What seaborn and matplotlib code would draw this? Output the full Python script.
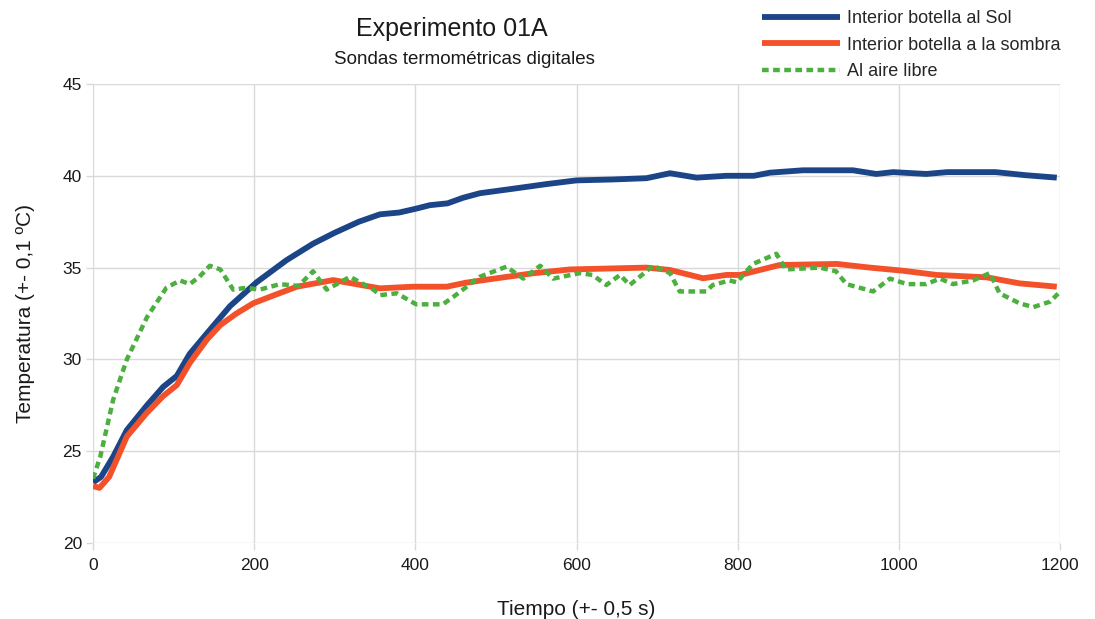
import numpy as np
import pandas as pd
import matplotlib
matplotlib.use("Agg")
import matplotlib.pyplot as plt
import seaborn as sns

# ---- data ----
sol_t = [0, 10, 25, 42, 67, 87, 104, 120, 141, 170, 203, 240, 273, 300, 330, 356, 380,
         400, 418, 440, 459, 480, 522, 563, 600, 645, 687, 716, 749, 786, 820, 840, 881,
         943, 972, 993, 1034, 1060, 1120, 1158, 1196]
sol_v = [23.3, 23.6, 24.7, 26.15, 27.5, 28.5, 29.1, 30.3, 31.4, 32.9, 34.2, 35.4, 36.3,
         36.9, 37.5, 37.9, 38.0, 38.2, 38.4, 38.5, 38.8, 39.05, 39.3, 39.55, 39.75, 39.8,
         39.87, 40.14, 39.9, 40.0, 40.0, 40.17, 40.3, 40.3, 40.1, 40.2, 40.1, 40.2, 40.2,
         40.03, 39.9]

sombra_t = [0, 8, 20, 42, 67, 87, 104, 120, 141, 158, 178, 199, 225, 253, 298, 356, 397,
            439, 463, 501, 546, 592, 687, 716, 757, 786, 803, 852, 923, 964, 1005, 1047,
            1109, 1150, 1196]
sombra_v = [23.1, 23.0, 23.6, 25.8, 27.1, 28.0, 28.6, 29.8, 31.06, 31.87, 32.5, 33.06,
            33.5, 33.96, 34.32, 33.87, 33.96, 33.96, 34.18, 34.42, 34.69, 34.9, 35.0, 34.87,
            34.42, 34.6, 34.6, 35.14, 35.2, 35.0, 34.83, 34.6, 34.47, 34.14, 33.96]

aire_t = [0, 9, 25, 42, 67, 91, 108, 120, 132, 145, 158, 174, 190, 207, 232, 255, 273,
          290, 319, 348, 356, 377, 401, 434, 447, 480, 513, 534, 555, 571, 604, 620, 637,
          654, 666, 695, 716, 728, 761, 769, 790, 799, 819, 848, 860, 902, 922, 935, 968,
          989, 1010, 1034, 1051, 1067, 1092, 1113, 1125, 1150, 1167, 1188, 1198]
aire_v = [23.5, 24.7, 27.8, 30.0, 32.3, 33.9, 34.3, 34.1, 34.5, 35.1, 34.9, 33.8, 33.9,
          33.8, 34.1, 34.0, 34.8, 33.8, 34.5, 33.8, 33.5, 33.6, 33.0, 33.0, 33.4, 34.5,
          35.05, 34.4, 35.1, 34.4, 34.7, 34.6, 34.05, 34.6, 34.05, 35.1, 34.7, 33.7, 33.7,
          34.05, 34.3, 34.2, 35.2, 35.75, 34.9, 35.0, 34.8, 34.1, 33.7, 34.4, 34.1, 34.1,
          34.4, 34.1, 34.3, 34.7, 33.6, 33.05, 32.85, 33.15, 33.6]

labels = ["Interior botella al Sol", "Interior botella a la sombra", "Al aire libre"]
x_ticks = [0, 200, 400, 600, 800, 1000, 1200]
y_ticks = [20, 25, 30, 35, 40, 45]

title = "Experimento 01A"
subtitle = "Sondas termométricas digitales"
xlabel = "Tiempo (+- 0,5 s)"
ylabel = "Temperatura (+- 0,1 ºC)"

# ---- style ----
sns.set_style("white")
plt.rcParams["font.family"] = ["Liberation Sans", "DejaVu Sans"]

c_sol = "#1c4587"
c_sombra = "#f2512a"
c_aire = "#4caf3f"
grid_c = "#d9d9d9"

fig = plt.figure(figsize=(10.95, 6.19), dpi=100)
ax = fig.add_axes([93 / 1095, 1 - 543 / 619, (1060 - 93) / 1095, (543 - 84) / 619])

sns.lineplot(x=sol_t, y=sol_v, ax=ax, color=c_sol, lw=4.2, label=labels[0],
             sort=False, solid_capstyle="butt")
sns.lineplot(x=sombra_t, y=sombra_v, ax=ax, color=c_sombra, lw=4.2, label=labels[1],
             sort=False, solid_capstyle="butt")
sns.lineplot(x=aire_t, y=aire_v, ax=ax, color=c_aire, lw=3.2, label=labels[2],
             sort=False, linestyle=(0, (1.5, 1.0)), dash_capstyle="butt")

ax.set_xlim(0, 1200)
ax.set_ylim(20, 45)
ax.set_xticks(x_ticks)
ax.set_yticks(y_ticks)
ax.grid(True, color=grid_c, lw=1.0)
ax.set_axisbelow(True)
for s in ax.spines.values():
    s.set_visible(False)
ax.tick_params(axis="both", which="both", length=5, width=1.0, color=grid_c,
               labelsize=12.5, labelcolor="#1a1a1a", left=True, bottom=True)
ax.tick_params(axis="y", pad=3)
ax.tick_params(axis="x", pad=6)

ax.set_xlabel(xlabel, fontsize=15, color="#1a1a1a", labelpad=19)
ax.set_ylabel(ylabel, fontsize=15, color="#1a1a1a", labelpad=20)

fig.text(452 / 1095, 1 - 29 / 619, title, ha="center", va="center", fontsize=18,
         color="#1a1a1a")
fig.text(464 / 1095, 1 - 60 / 619, subtitle, ha="center", va="center", fontsize=13.5,
         color="#1a1a1a")

handles, labs = ax.get_legend_handles_labels()
ax.get_legend().remove()
fig.legend(handles, labs, loc="upper left", bbox_to_anchor=(762 / 1095, 1 - 10 / 619),
           frameon=False, fontsize=13, handlelength=4.3, handletextpad=0.4,
           labelspacing=0.53, borderpad=0, borderaxespad=0)

fig.savefig("out.png", dpi=100)
